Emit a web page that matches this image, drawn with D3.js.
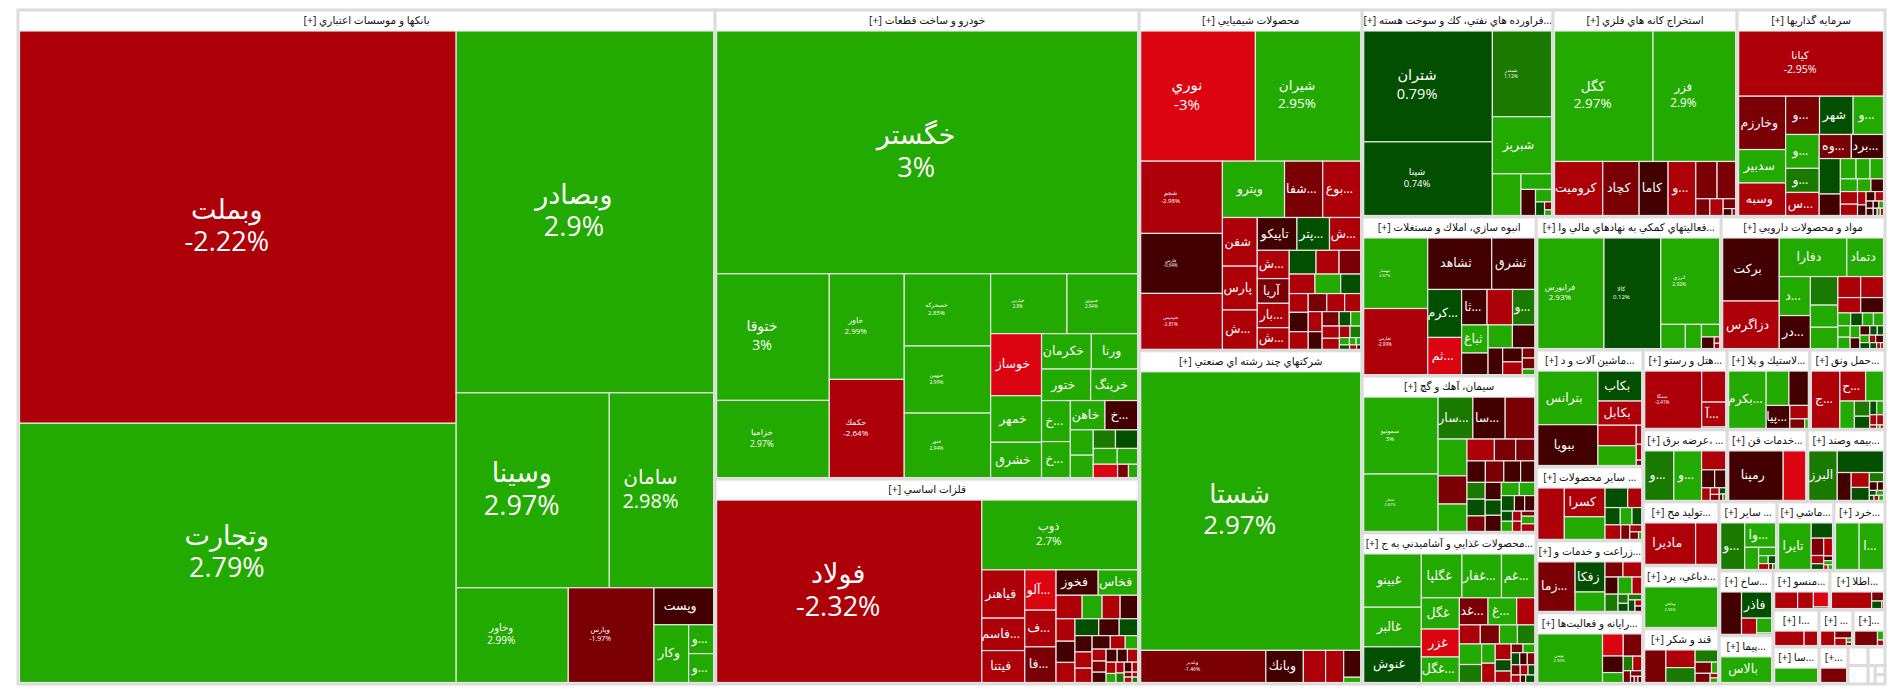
<!DOCTYPE html>
<html><head><meta charset="utf-8">
<script src="https://cdn.jsdelivr.net/npm/d3@7"></script>
<style>
html,body{margin:0;padding:0;background:#fff;overflow:hidden}
svg{display:block}
text{font-family:"Open Sans","DejaVu Sans",sans-serif}
</style></head><body>
<script>
// Market map: sector boxes hold symbols sized by market value and coloured by daily change.
// Groups are ['h'|'v', ...children]; a symbol is [name, value, change %].

const sectorTitles = {
  banks:"بانكها و موسسات اعتباري [+]", auto:"خودرو و ساخت قطعات [+]", metals:"فلزات اساسي [+]",
  chem:"محصولات شيميايي [+]", multi:"شركتهاي چند رشته اي صنعتي [+]",
  oil:"...فراورده هاي نفتي، كك و سوخت هسته [+]", mining:"استخراج كانه هاي فلزي [+]", invest:"سرمايه گذاريها [+]",
  constr:"انبوه سازي، املاك و مستغلات [+]", cement:"سيمان، آهك و گچ [+]", food:"...محصولات غذايي و آشاميدني به ج [+]",
  fin:"...فعاليتهاي كمكي به نهادهاي مالي وا [+]", pharma:"مواد و محصولات دارويي [+]",
  mach:"...ماشين آلات و د [+]", other:"... ساير محصولات [+]", agri:"...زراعت و خدمات و [+]", it:"...رايانه و فعاليت‌ها [+]",
  hotel:"...هتل و رستو [+]", rubber:"...لاستيك و پلا [+]", transport:"...حمل ونق [+]",
  power:"... ،عرضه برق [+]", services:"...خدمات فن [+]", insurance:"...بيمه وصند [+]",
  mfg:"...توليد مح [+]", tann:"...دباغي، پرد [+]", sugar:"قند و شكر [+]",
  other2:"... ساير [+]", mashi:"...ماشي [+]", khord:"...خرد [+]", sakh:"...ساخ [+]", pima:"...پيما [+]",
  monso:"...منسو [+]", atla:"...اطلا [+]", is1:"...ا [+]", is2:"... [+]", is3:"...[+]", is4:"...سا [+]", is5:"...+]"
};

const sectorWeights = ['h',
  ['banks',4698],
  ['v',['auto',1989],['metals',869]],
  ['v',['chem',760],['multi',743]],
  ['v',
    ['h',['oil',395],['mining',381],['invest',306]],
    ['h',
      ['v',['constr',277],['cement',273],['food',263]],
      ['v',
        ['h',['fin',246],['pharma',218]],
        ['h',
          ['v',['mach',125],['other',79],['agri',77],['it',76]],
          ['v',
            ['v',['h',['hotel',67],['rubber',66],['transport',60]],['h',['power',60.5],['services',57.6],['insurance',56]]],
            ['h',
              ['v',['mfg',48.6],['tann',47.9],['sugar',41.8]],
              ['v',
                ['h',['other2',40],['mashi',39.3],['khord',35.2]],
                ['h',
                  ['v',['sakh',35],['pima',26]],
                  ['v',
                    ['h',['monso',22.2],['atla',21.5]],
                    ['h',['is1',17],['is2',12.6],['is3',11.8]],
                    ['h',['is4',17],['is5',10.7],
                      ['v',['h',['blank',3.7],['blank',3.1]],['h',['blank',3.7],['blank',1.3],['v',['blank',.9],['blank',.9]]]]]
                  ]
                ]
              ]
            ]
          ]
        ]
      ]
    ]
  ]
];

const banks = ['h',
  ['v',['وبملت',171,-2.22],['وتجارت',113,2.79]],
  ['v',['وبصادر',93,2.9],
    ['h',['وسينا',29.8,2.97],['سامان',20.3,2.98]],
    ['h',['وخاور',10.6,2.99],['وپارس',8.1,-1.97],
      ['v',['وپست',2.2,-0.5],['h',['وكار',2,2.9],['v',['...و',.72,2.9],['...و',.72,2.9] ]]] ]]
];

const auto = ['v',['خگستر',917,3],
  ['h',
    ['v',['ختوقا',128,3],['خزاميا',78,2.97]],
    ['v',['خاور',71,2.99],['حكمك',66,-2.64]],
    ['v',['خسحركه',56,2.85],['خبهمن',52,2.99],['خنور',50,2.94]],
    ['v',
      ['h',['خپارس',41,2.8],['خموتور',38,2.84]],
      ['h',
        ['v',['خوساز',28.3,-3],['خمهر',21.3,2.9],['خشرق',16.1,2.9]],
        ['v',
          ['h',['خكرمان',15.8,2.9],['ورنا',14.7,2.9]],
          ['h',['ختور',13.9,2.9],['خرينگ',13.3,2.9]],
          ['h',
            ['v',['...خ',10.6,2.9],['...خ',9.3,2.9]],
            ['v',
              ['h',['خاهن',9.1,2.9],['...خ',8.6,-0.5]],
              ['h',
                ['v',['',5.2,2.9],['',4.6,2.9]],
                ['v',
                  ['h',['',3.7,1.4],['',3.7,0.5]],
                  ['h',['',3.4,2.9],['',2.9,2.9]],
                  ['h',['',2.9,-3],['',1.3,-1.6],['',1.1,2.9] ]]]]] ]]]]
];

const metals = ['h',['فولاد',434,-2.32],
  ['v',['ذوب',97.6,2.7],
    ['h',
      ['v',['فياهنر',18.6,-2.5],['...فاسم',12.5,-2.5],['فيتنا',12.3,-2.5]],
      ['v',['...آلو',11.3,-3],['...ف',10.3,-2.5],['...فا',10,-1.6]],
      ['v',
        ['h',['فخوز',9.6,-0.5],['فخاس',9,2.9]],
        ['h',['',5.5,-2.5],['',4.2,2.9],['',3.8,-2.5],['',3.7,-0.5]],
        ['h',
          ['v',['',3.8,-2.5],['',3.6,-0.5],['',3.4,-2.5]],
          ['v',
            ['h',['',3.6,0.5],['',3.1,-0.5],['',2.8,0.5]],
            ['h',
              ['v',['',2.5,-0.5],['',2.5,-2.5],['',2.2,-2.5]],
              ['v',
                ['h',['',2.2,-0.5],['',1.8,-2.5],['',1.5,2.9]],
                ['h',
                  ['v',['',1.5,-2.5],['',1.4,-1.6],['',1.3,-0.5]],
                  ['v',
                    ['h',['',1.3,-0.5],['',1.2,-0.5],['',1.2,-2.5]],
                    ['h',
                      ['v',['',1,-2.5],['',.8,2.9]],
                      ['v',['',.8,-2.5],['',.7,1.4]],
                      ['v',['h',['',.7,-0.5],['',.5,-2.5]],['h',['',.35,-1.6],['',.25,-2.5]],['h',['',.38,-2.5],['',.27,1.4] ]]]]] ]]]]] ]]
];

const chem = ['v',
  ['h',['نوري',134,-3],['شيران',123,2.95]],
  ['h',
    ['v',['شجم',53,-2.98],['فارس',44,-0.64],['شپديس',41,-2.81]],
    ['v',
      ['h',['ويترو',31.4,2.9],['...شفا',19.3,-1.6],['...بوع',19.2,-2.5]],
      ['h',
        ['v',['شفن',15.2,-2.5],['پارس',13.7,-2.5],['...ش',12.3,-2.5]],
        ['v',
          ['h',['تاپيكو',11.7,-0.5],['...پتر',9.6,0.5],['...ش',9.2,-2.5]],
          ['h',
            ['v',['...ش',8.1,-2.5],['آريا',7.1,-1.6],['...بار',7,-2.5],['...ش',6.2,-2.5]],
            ['v',
              ['h',['',5.7,0.5],['',4.9,-2.5],['',4.6,-1.6]],
              ['h',['',4.5,-2.5],['',4.5,2.9],['',3.5,0.5]],
              ['h',
                ['v',['',3.2,-2.5],['',3.3,-0.5],['',3,-2.5]],
                ['v',
                  ['h',['',3,-1.6],['',2.9,-2.5],['',2.6,-2.5]],
                  ['h',
                    ['v',['',2.5,-2.5],['',2.2,-0.5]],
                    ['v',
                      ['h',['',2.2,-1.6],['',1.5,0.5],['',1.3,2.9]],
                      ['h',
                        ['v',['',1.9,-2.5],['',1.7,-2.5]],
                        ['v',
                          ['h',['',1.1,-2.5],['',1.1,1.4]],
                          ['h',['',.66,2.9],['',.44,2.9],['',.3,2.9]],
                          ['h',['',.4,0.5],['',.28,-2.5],['',.16,-0.5] ]]]]] ]]]]] ]]]
];

const multi = ['v',['شستا',549,2.97],
  ['h',['وغدير',36,-1.46],['وبانك',10.8,-0.5],['',6.4,-2.5],['',5.2,-2.5],['v',['',4.1,-0.5],['',.8,2.9]]]
];

const oil = ['h',
  ['v',['شتران',128,0.79],['شپنا',85,0.74]],
  ['v',['شبندر',45.5,1.12],['شبريز',30.3,2.9],
    ['h',['',10.7,2.9],
      ['v',['',4.3,2.9],
        ['h',['',3.4,-0.5],
          ['v',['',1.8,2.9],['h',['',1.1,0.5],['v',['',.5,-1.6],['',.35,2.9] ]]]]] ]]
];

const mining = ['v',
  ['h',['كگل',115,2.97],['فزر',96.5,2.9]],
  ['h',['كروميت',23.3,-2.5],['كچاد',17.6,-1.6],['كاما',14,-0.5],['...و',13.4,-2.5],
    ['v',
      ['h',['',7.1,-1.6],['',6.2,-1.6]],
      ['h',['',2.1,-1.6],['',2,-2.5],['v',['',1.1,-1.6],['h',['',.55,-0.5],['',.22,-2.5] ]]]]]
];

const invest = ['v',['كيانا',83,-2.95],
  ['h',
    ['v',['وخارزم',22,-1.6],['سدبير',13.8,2.9],['وسبه',13.4,-2.5]],
    ['v',
      ['h',['...و',11.4,-1.6],['شهر',11.3,0.5],['...و',10.2,2.9]],
      ['h',
        ['v',['...و',10,2.9],['...و',7.1,1.4],['...س',6.8,-2.5]],
        ['v',
          ['h',['...وه',6.8,-1.6],['...برد',6.8,-0.5]],
          ['h',
            ['v',['',6.6,0.5],['',4,-0.5]],
            ['v',
              ['h',['',2.8,2.9],['',2.5,2.9],['',2.4,2.9]],
              ['h',['',1.9,2.9],['',1.5,2.9],['',1.4,-0.5]],
              ['h',
                ['v',['',1.9,-2.5],['',1.7,-2.5]],
                ['v',['',1,-2.5],['',.8,-0.5]],
                ['v',
                  ['h',['',.75,-0.5],['',.7,-2.5]],
                  ['h',['',.45,-0.5],['',.35,-0.5],['',.3,2.9]],
                  ['h',['',.45,-0.5],['',.25,-0.5],['',.2,2.9],['',.2,-2.5] ]]]]] ]]]]
];

const constr = ['h',
  ['v',['ثبهساز',39.5,2.87],['ثفارس',37,-2.99]],
  ['v',
    ['h',['ثشاهد',28.8,-0.5],['ثشرق',19.4,-0.5]],
    ['h',
      ['v',['...كرم',14.2,0.5],['...ثم',11,-3]],
      ['v',
        ['h',['...ثا',7.9,-0.5],['',7.9,-2.5],['...و',6.9,1.4]],
        ['h',
          ['v',['ثباغ',6.5,2.9],['',5,-0.5]],
          ['v',
            ['h',['',4.9,2.9],['',4.5,-0.5]],
            ['h',['',3.4,-0.5],['v',['',2.4,-0.5],['',2.2,-2.5]],['v',['',1.1,-1.6],['',1.2,-1.6],['',.6,2.9] ]]]]] ]]
];

const cement = ['h',
  ['v',['سمونيو',50.6,3],['سفار',37.8,2.87]],
  ['v',
    ['h',['...سار',12.9,1.4],['...سا',12,-0.5],['',11,-1.6]],
    ['h',
      ['v',['',9.4,2.9],['',7.2,-1.6],['',7,2.9]],
      ['v',
        ['h',['',5.3,-2.5],['',4.1,-1.6],['',3.7,-1.6]],
        ['h',['',3.5,-0.5],['',3.5,-1.6],['',3.2,-0.5],['',2.7,-0.5]],
        ['h',
          ['v',['',2.7,1.4],['',2.7,0.5],['',2.5,-1.6]],
          ['v',['',2.5,-0.5],['',2.2,0.5],['',2.3,-0.5]],
          ['v',
            ['h',['',2.1,2.9],['',1.8,2.9]],
            ['h',['',1.8,0.5],['',1.4,-0.5],['',1.4,-0.5]],
            ['h',
              ['v',['',1,0.5],['',1,2.9]],
              ['v',['',.8,-2.5],['',.8,-2.5]],
              ['v',['',.6,-1.6],['',.9,2.9],['',.9,-2.5] ]]]]] ]]
];

const food = ['h',
  ['v',['غبينو',26.9,2.9],['غالبر',20,2.9],['غنوش',18,0.5]],
  ['v',
    ['h',['غگلپا',15.6,2.9],['...غفار',15.2,2.9],['...غم',12.8,2.9]],
    ['h',
      ['v',['غگل',10.4,2.9],['غزر',9.3,-3],['...غگل',8.5,2.9]],
      ['v',
        ['h',['...غد',6.8,-1.6],['...غ',6.8,2.9],['',4.3,-2.5]],
        ['h',['',3.5,-2.5],['',3.2,-1.6],['',3,2.9],['',2.9,1.4]],
        ['h',
          ['v',['',4,2.9],['',3.5,1.4]],
          ['v',['',2.3,2.9],['',2.3,-2.5]],
          ['v',['',2.2,-2.5],['',1.6,0.5],['',1.6,-2.5]],
          ['v',
            ['h',['',.9,-1.6],['',.9,2.9]],
            ['h',['',.9,0.5],['',.8,-0.5],['',.8,-1.6]],
            ['h',['',.8,-1.6],['',.7,-2.5],['',.6,0.5]],
            ['h',['',.6,-2.5],['',.35,-0.5],['',.6,0.5] ]]]]] ]
];

const fin = ['h',['فرابورس',64,2.93],['كالا',55,0.12],
  ['v',['انرژي',44.5,2.92],
    ['h',['',5.2,2.9],['',3.4,2.9],
      ['v',['',2,2.9],['h',['',1.3,-0.5],['v',['',.3,-2.5],['',.25,-2.5] ]]]]]
];

const pharma = ['h',
  ['v',['بركت',30.5,-0.5],['دزاگرس',23,-2.5]],
  ['v',
    ['h',['دفارا',22.3,2.9],['دتماد',12.1,2.9]],
    ['h',
      ['v',['...د',10.4,2.9],['...در',8.8,-0.5]],
      ['v',['',6.7,1.4],['',5.2,2.9],['',5,2.9]],
      ['v',
        ['h',['',4.1,-2.5],['',4.1,-2.5]],
        ['h',['',3,-2.5],['',3,-0.5]],
        ['h',['',1.4,2.9],['',1.3,0.5],['',1.2,2.9],['',1.1,2.9]],
        ['h',
          ['v',['',1.2,2.9],['',1.2,2.9]],
          ['v',['',1,2.9],['',.9,-0.5]],
          ['v',
            ['h',['',.8,-0.5],['',.6,0.5],['',.5,0.5]],
            ['h',['',.6,2.9],['',.4,-2.5],['',.5,-0.5]],
            ['h',['',.5,0.5],['',.35,0.5],['',.2,-2.5],['',.15,-2.5] ]]]]] ]
];

const mach = ['h',
  ['v',['بترانس',28,2.9],['ببويا',21.3,-0.5]],
  ['v',['بكاب',11.4,0.5],['بكابل',9.2,-2.5],
    ['h',['v',['',6.8,-2.5],['',6.6,2.9]],['v',['',.9,-2.5],['',.75,-2.5],['',.25,-1.6] ]]]
];

const other = ['h',['',11.4,-2.5],
  ['v',['كسرا',9.8,-2.5],['',7.7,2.9]],
  ['v',
    ['h',['',3.7,0.5],['',2.3,-2.5]],
    ['h',['',2.2,0.5],['',1.7,2.9],['',1.4,0.5]],
    ['h',['',1.9,-2.5],['',1.1,-1.6],['v',['',.7,-2.5],['h',['',.55,-1.6],['',.2,2.9] ]]]]
];

const agri = ['h',['...زما',15.6,-1.6],
  ['v',['زفكا',7.6,0.5],['',4.9,2.9]],
  ['v',
    ['h',['',2.3,-1.6],['',2.4,-2.5]],
    ['h',['',1.9,-0.5],['',2,2.9],['',1.4,-2.5]],
    ['h',['',1.9,1.4],['v',['',.8,1.4],['',.7,0.5]],['v',['',.65,1.4],['h',['',.65,0.5],['v',['',.35,-2.5],['',.3,-0.5] ]]]]]
];

const it = ['h',['توسن',27.5,2.99],
  ['v',['',4,-3],['',3,-0.5],['',1.8,2.9]],
  ['v',['',3.6,-1.6],
    ['h',['',1.2,1.4],['',1.15,-2.5]],
    ['h',['',.75,-1.6],['v',['',.55,-1.6],['h',['',.2,-0.5],['',.2,-2.5],['',.2,-0.5] ]]]]
];

const hotel = ['h',['سمگا',29,-2.41],['v',['',6.6,-2.5],['...آ',5.3,-2.5],['',.3,1.4]]];

const rubber = ['h',['...بكرم',19,2.9],
  ['v',
    ['h',['',6.9,2.9],['',5.9,-0.5]],
    ['h',['...پيا',4.8,-0.5],['v',['',2.2,-2.5],['h',['',1.25,-1.6],['',.3,2.9] ]]]]
];

const transport = ['h',['...ج',14,-2.5],
  ['v',
    ['h',['...ح',6.6,-2.5],['',4.6,2.9]],
    ['h',['',3.4,2.9],['v',['',2,1.4],['',1.6,0.5]],
      ['v',['h',['',.8,0.5],['',.8,2.9]],['h',['',.6,-2.5],['',.6,-2.5]],['h',['',.2,-2.5],['',.1,2.9],['',.1,-2.5] ]]]]
];

const power = ['h',['...و',12.3,1.4],['...و',11.7,2.9],
  ['v',['',3.9,-2.5],
    ['h',['',2,-0.5],['',1.7,-0.5]],
    ['h',['',.95,-2.5],['v',['',.5,-2.5],['',.45,-1.6]],['v',['',.35,0.5],['h',['',.2,-1.6],['',.15,2.9] ]]]]
];

const services = ['h',['رمپنا',23.2,-0.5],['',9.6,-3]];

const insurance = ['h',['البرز',12,1.4],
  ['v',['',8.5,0.5],
    ['h',['',3.3,-0.5],['v',['',2.3,-2.5],['',2,0.5]],
      ['v',['',1.1,1.4],['h',['',.6,-0.5],['',.45,-0.5]],['h',['',.3,0.5],['',.3,2.9]],['h',['',.2,0.5],['',.2,-2.5],['',.2,2.9] ]]]]
];

const mfg = ['h',['ماديرا',18.7,-2.5],['',8.1,-2.5]];
const tann = ['v',['وملش',1,2.96]];

const sugar = ['h',['',6,-1.6],
  ['v',['',4.5,-2.5],['',3.8,1.4]],
  ['v',['',2.4,1.4],
    ['h',['',1.6,-1.6],['',.6,2.9]],
    ['h',['',1.2,-1.6],['v',['',.3,-2.5],['',.3,2.9] ]]]
];

const other2 = ['h',['...و',9.5,1.4],
  ['v',['...وا',6.4,2.9],
    ['h',['',2.6,2.9],
      ['v',['',1.2,2.9],['h',['',.65,2.9],['',.5,0.5]],['h',['',.5,-2.5],['',.2,-1.6],['',.15,2.9] ]]]]
];

const mashi = ['h',['تايرا',12.6,2.9],
  ['v',['',2.7,0.5],
    ['h',
      ['v',['',1.8,-1.6],['',.85,-2.5],['',.6,0.5]],
      ['v',['',1.3,-2.5],['',.35,-0.5],['',.3,2.9],['h',['',.17,-3],['',.17,2.9] ]]]]
];

const khord = ['h',['',9.6,2.9],['...ا',9.9,2.9]];

const sakh = ['h',['',7.6,-0.5],
  ['v',['فاذر',6.8,0.5],['h',['',2.1,-2.5],['v',['',1.9,2.9],['',.2,2.9] ]]]
];

const pima = ['v',['بالاس',1,2.9]];
const monso = ['h',['',3.2,-2.5],['',2.2,-2.5],['v',['',1.9,-3],['',.2,0.5]]];
const atla = ['h',['',5.6,-2.5],['v',['',.9,-1.6],['h',['',.65,0.5],['',.1,-2.5] ]]];
const is1 = ['h',['',3.7,-2.5],['',1.7,-2.5]];
const is2 = ['h',['',2.4,-2.5],['v',['',1.4,-1.6],['h',['',1,-2.5],['v',['',.25,2.9],['',.2,-2.5] ]]]];
const is3 = ['h',['',4,-1.6],['v',['',.65,2.9],['',.4,-2.5]]];
const is4 = ['v',['',1,2.9]];
const is5 = ['v',['',1,-1.6]];

const sectorCells = {banks,auto,metals,chem,multi,oil,mining,invest,constr,cement,food,fin,pharma,mach,other,agri,it,
  hotel,rubber,transport,power,services,insurance,mfg,tann,sugar,other2,mashi,khord,sakh,pima,monso,atla,is1,is2,is3,is4,is5};

// Symbols that also print their change, with the type size for that label.
const pctLabelPx = {
  "وبملت":27,"وتجارت":27,"وبصادر":27,"وسينا":27,"سامان":20,"وخاور":10,"وپارس":7,
  "خگستر":27,"ختوقا":14,"خزاميا":8.5,"خاور":8,"حكمك":8,"خسحركه":6,"خبهمن":5,"خنور":5,"خپارس":4.5,"خموتور":4.5,
  "فولاد":27,"ذوب":11.5,"نوري":15,"شيران":13.5,"شجم":6,"فارس":4.5,"شپديس":4.7,"شستا":26,"وغدير":5,
  "شتران":14.5,"شپنا":9.5,"شبندر":5,"كگل":13.5,"فزر":11.7,"كيانا":10.5,"ثبهساز":4,"ثفارس":4.5,
  "سمونيو":6,"سفار":4,"فرابورس":8,"كالا":6,"انرژي":5,"سمگا":4.6,"وملش":4,"توسن":4
};
const nameLabelPx = 12.5;

const colour = d3.scaleThreshold()
  .domain([-2.99,-2,-1,0,1,2])
  .range(["#dc0410","#ae0009","#7b0006","#420000","#034f00","#1a7a00","#22aa00"]);

const isGroup = d => d[0]==='h' || d[0]==='v';
const tile = (p,x0,y0,x1,y1) => (p.data[0]==='h' ? d3.treemapDice : d3.treemapSlice)(p,x0,y0,x1,y1);
const layout = (tree,w,h) => d3.treemap().tile(tile).size([w,h]).round(false)(
  d3.hierarchy(tree,d=>isGroup(d)?d.slice(1):null).sum(d=>isGroup(d)?0:d[1])
);

const pageW=1904, pageH=698, boxLeft=18, boxTop=10, boxW=1867, boxH=674, headerH=21, edge=1.5;
const svg=d3.select("body").append("svg").attr("width",pageW).attr("height",pageH);
const rootG=svg.append("g").attr("transform",`translate(${boxLeft},${boxTop})`);

const sectors=layout(sectorWeights,boxW,boxH).leaves();
const boxes=rootG.selectAll("g.sector").data(sectors).join("g").attr("class","sector")
  .attr("transform",d=>`translate(${d.x0},${d.y0})`);

boxes.append("rect")
  .attr("width",d=>d.x1-d.x0).attr("height",d=>d.y1-d.y0)
  .attr("fill","#fff").attr("stroke","#dcdcdc").attr("stroke-width",3);

boxes.filter(d=>d.data[0]!=='blank').each(function(s){
  const g=d3.select(this), key=s.data[0], w=s.x1-s.x0, h=s.y1-s.y0;
  g.append("text").attr("x",w/2).attr("y",headerH/2+3.5)
    .attr("direction","rtl").attr("text-anchor","middle")
    .attr("font-size",10.5).attr("fill","#111").text(sectorTitles[key]);

  const cells=layout(sectorCells[key],w-2*edge,h-headerH-edge).leaves();
  const area=g.append("g").attr("transform",`translate(${edge},${headerH})`);
  const cell=area.selectAll("g").data(cells).join("g")
    .attr("transform",d=>`translate(${d.x0},${d.y0})`);

  cell.append("rect")
    .attr("width",d=>d.x1-d.x0).attr("height",d=>d.y1-d.y0)
    .attr("fill",d=>colour(d.data[2])).attr("stroke","#e6e6e6").attr("stroke-width",1.2);

  cell.filter(d=>d.data[0]).each(function(d){
    const c=d3.select(this), cw=d.x1-d.x0, ch=d.y1-d.y0, px=pctLabelPx[d.data[0]];
    if(px){
      // Name and change share one text element; the change is isolated so its sign stays on the left.
      // Small labels need a little more leading, the Arabic descenders otherwise touch the digits.
      const cx=cw/2-11, lead=px<20?.42:.3;
      const t=c.append("text").attr("direction","rtl").attr("text-anchor","middle")
        .attr("font-size",px).attr("fill","#fff");
      t.append("tspan").attr("x",cx).attr("y",ch/2-lead*px).text(d.data[0]);
      t.append("tspan").attr("x",cx).attr("y",ch/2+.9*px).text("\u2066"+d.data[2]+"%\u2069");
    } else {
      c.append("text").attr("x",cw/2-Math.min(5,cw*.06)).attr("y",ch/2+nameLabelPx*.3)
        .attr("direction","rtl").attr("text-anchor","middle")
        .attr("font-size",nameLabelPx).attr("fill","#fff").text(d.data[0]);
    }
  });
});
</script></body></html>
